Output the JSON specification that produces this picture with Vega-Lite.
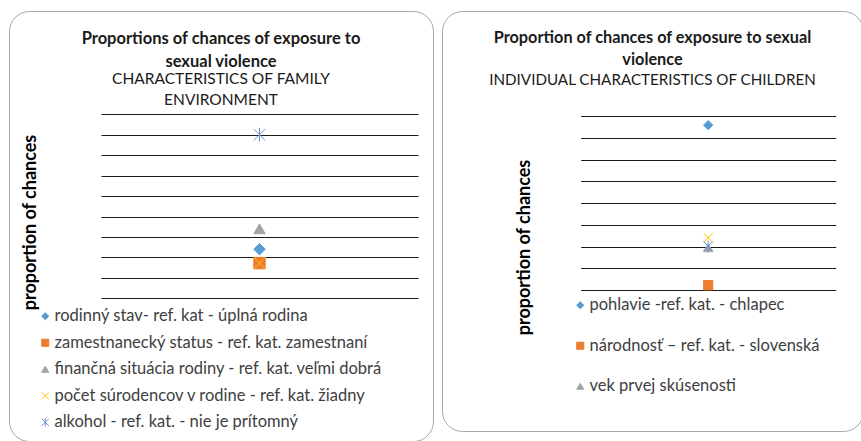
{
  "$schema": "https://vega.github.io/schema/vega-lite/v6.json",
  "padding": {"left": 8, "top": 10, "right": 0, "bottom": 0},
  "background": "white",
  "spacing": 7,
  "config": {
    "font": "Lato",
    "view": {"stroke": "#A6A6A6", "strokeWidth": 1, "cornerRadius": 20}
  },
  "datasets": {
    "family": [
      {"panel": "family", "series": "rodinný stav- ref. kat - úplná rodina", "value": 1.2},
      {"panel": "family", "series": "zamestnanecký status - ref. kat. zamestnaní", "value": 0.86},
      {"panel": "family", "series": "finančná situácia rodiny - ref. kat. veľmi dobrá", "value": 1.7},
      {"panel": "family", "series": "počet súrodencov v rodine - ref. kat. žiadny", "value": 0.86},
      {"panel": "family", "series": "alkohol - ref. kat. - nie je prítomný", "value": 4.0}
    ],
    "children": [
      {"panel": "children", "series": "pohlavie -ref. kat. - chlapec", "value": 3.79},
      {"panel": "children", "series": "národnosť – ref. kat. - slovenská", "value": 0.11},
      {"panel": "children", "series": "vek prvej skúsenosti", "value": 0.97},
      {"panel": "children", "series": "séria 4", "value": 1.2},
      {"panel": "children", "series": "séria 5", "value": 1.01}
    ]
  },
  "resolve": {
    "scale": {"shape": "independent", "fill": "independent", "stroke": "independent", "size": "independent"},
    "legend": {"shape": "independent", "fill": "independent", "stroke": "independent"}
  },
  "hconcat": [
    {
      "width": 424,
      "height": 430,
      "data": {"name": "family"},
      "title": {
        "text": ["Proportions of chances of exposure to", "sexual violence"],
        "subtitle": ["CHARACTERISTICS OF FAMILY", "ENVIRONMENT"],
        "anchor": "middle",
        "frame": "group",
        "font": "Lato",
        "fontSize": 16.5,
        "fontWeight": "bold",
        "color": "#1a1a1a",
        "lineHeight": 23,
        "subtitleFont": "Lato",
        "subtitleFontSize": 15.5,
        "subtitleFontWeight": "normal",
        "subtitleColor": "#1a1a1a",
        "subtitleLineHeight": 20.5,
        "subtitlePadding": 2,
        "offset": -97
      },
      "mark": {"type": "point", "filled": true, "opacity": 1, "strokeWidth": 1, "size": 130},
      "encoding": {
        "x": {
          "field": "panel", "type": "nominal",
          "scale": {"type": "point", "range": [92, 409], "padding": 0.5},
          "axis": null
        },
        "y": {
          "field": "value", "type": "quantitative",
          "scale": {"domain": [0, 4.5], "range": [287.3, 103.3], "nice": false, "zero": false},
          "axis": {
            "title": "proportion of chances",
            "titleFont": "Lato", "titleFontSize": 18, "titleFontWeight": "bold", "titleColor": "#000000",
            "titleAngle": 270, "titleAlign": "center", "titleBaseline": "middle",
            "titleX": 21, "titleY": 211,
            "labels": false, "ticks": false, "domain": false,
            "grid": true, "gridColor": "#1a1a1a", "gridWidth": 1,
            "values": [0, 0.5, 1, 1.5, 2, 2.5, 3, 3.5, 4, 4.5]
          }
        },
        "shape": {
          "field": "series", "type": "nominal",
          "scale": {
            "domain": ["rodinný stav- ref. kat - úplná rodina", "zamestnanecký status - ref. kat. zamestnaní", "finančná situácia rodiny - ref. kat. veľmi dobrá", "počet súrodencov v rodine - ref. kat. žiadny", "alkohol - ref. kat. - nie je prítomný"],
            "range": ["diamond", "square", "triangle-up", "M-1,-1L1,1M-1,1L1,-1", "M-1,-1L1,1M-1,1L1,-1M0,-1.2L0,1.2"]
          },
          "legend": {
            "orient": "none", "legendX": 28, "legendY": 297, "title": null,
            "labelFont": "Lato", "labelFontSize": 16.5, "labelColor": "#404040", "labelLimit": 400,
            "symbolSize": 50, "symbolStrokeWidth": 1, "rowPadding": 9.5, "labelOffset": 1
          }
        },
        "fill": {
          "field": "series", "type": "nominal",
          "scale": {
            "domain": ["rodinný stav- ref. kat - úplná rodina", "zamestnanecký status - ref. kat. zamestnaní", "finančná situácia rodiny - ref. kat. veľmi dobrá", "počet súrodencov v rodine - ref. kat. žiadny", "alkohol - ref. kat. - nie je prítomný"],
            "range": ["#5B9BD5", "#ED7D31", "#A5A5A5", "#FFC000", "#6A8FD6"]
          }
        },
        "stroke": {
          "field": "series", "type": "nominal",
          "scale": {
            "domain": ["rodinný stav- ref. kat - úplná rodina", "zamestnanecký status - ref. kat. zamestnaní", "finančná situácia rodiny - ref. kat. veľmi dobrá", "počet súrodencov v rodine - ref. kat. žiadny", "alkohol - ref. kat. - nie je prítomný"],
            "range": ["#5B9BD5", "#ED7D31", "#A5A5A5", "#FFC000", "#6A8FD6"]
          }
        }
      }
    },
    {
      "width": 421,
      "height": 420,
      "data": {"name": "children"},
      "title": {
        "text": ["Proportion of chances of exposure to sexual", "violence"],
        "subtitle": ["INDIVIDUAL CHARACTERISTICS OF CHILDREN"],
        "anchor": "middle",
        "frame": "group",
        "font": "Lato",
        "fontSize": 16.3,
        "fontWeight": "bold",
        "color": "#1a1a1a",
        "lineHeight": 22,
        "subtitleFont": "Lato",
        "subtitleFontSize": 15.2,
        "subtitleFontWeight": "normal",
        "subtitleColor": "#1a1a1a",
        "subtitleLineHeight": 20,
        "subtitlePadding": 5,
        "offset": -77
      },
      "mark": {"type": "point", "filled": true, "opacity": 1, "strokeWidth": 1, "size": 85},
      "encoding": {
        "x": {
          "field": "panel", "type": "nominal",
          "scale": {"type": "point", "range": [138.7, 393.7], "padding": 0.5},
          "axis": null
        },
        "y": {
          "field": "value", "type": "quantitative",
          "scale": {"domain": [0, 4], "range": [279, 105], "nice": false, "zero": false},
          "axis": {
            "title": "proportion of chances",
            "titleFont": "Lato", "titleFontSize": 18, "titleFontWeight": "bold", "titleColor": "#000000",
            "titleAngle": 270, "titleAlign": "center", "titleBaseline": "middle",
            "titleX": 82, "titleY": 236,
            "labels": false, "ticks": false, "domain": false,
            "grid": true, "gridColor": "#1a1a1a", "gridWidth": 1,
            "values": [0, 0.5, 1, 1.5, 2, 2.5, 3, 3.5, 4]
          }
        },
        "shape": {
          "field": "series", "type": "nominal",
          "scale": {
            "domain": ["pohlavie -ref. kat. - chlapec", "národnosť – ref. kat. - slovenská", "vek prvej skúsenosti", "séria 4", "séria 5"],
            "range": ["diamond", "square", "triangle-up", "M-1,-1L1,1M-1,1L1,-1", "M-1,-1L1,1M-1,1L1,-1M0,-1.2L0,1.2"]
          },
          "legend": {
            "orient": "none", "legendX": 130, "legendY": 286, "title": null,
            "values": ["pohlavie -ref. kat. - chlapec", "národnosť – ref. kat. - slovenská", "vek prvej skúsenosti"],
            "labelFont": "Lato", "labelFontSize": 16.5, "labelColor": "#404040", "labelLimit": 400,
            "symbolSize": 50, "symbolStrokeWidth": 1, "rowPadding": 23.5, "labelOffset": 1
          }
        },
        "fill": {
          "field": "series", "type": "nominal",
          "scale": {
            "domain": ["pohlavie -ref. kat. - chlapec", "národnosť – ref. kat. - slovenská", "vek prvej skúsenosti", "séria 4", "séria 5"],
            "range": ["#5B9BD5", "#ED7D31", "#A5A5A5", "#FFC000", "#6A8FD6"]
          },
          "legend": {"values": ["pohlavie -ref. kat. - chlapec", "národnosť – ref. kat. - slovenská", "vek prvej skúsenosti"]}
        },
        "stroke": {
          "field": "series", "type": "nominal",
          "scale": {
            "domain": ["pohlavie -ref. kat. - chlapec", "národnosť – ref. kat. - slovenská", "vek prvej skúsenosti", "séria 4", "séria 5"],
            "range": ["#5B9BD5", "#ED7D31", "#A5A5A5", "#FFC000", "#6A8FD6"]
          },
          "legend": {"values": ["pohlavie -ref. kat. - chlapec", "národnosť – ref. kat. - slovenská", "vek prvej skúsenosti"]}
        }
      }
    }
  ]
}
